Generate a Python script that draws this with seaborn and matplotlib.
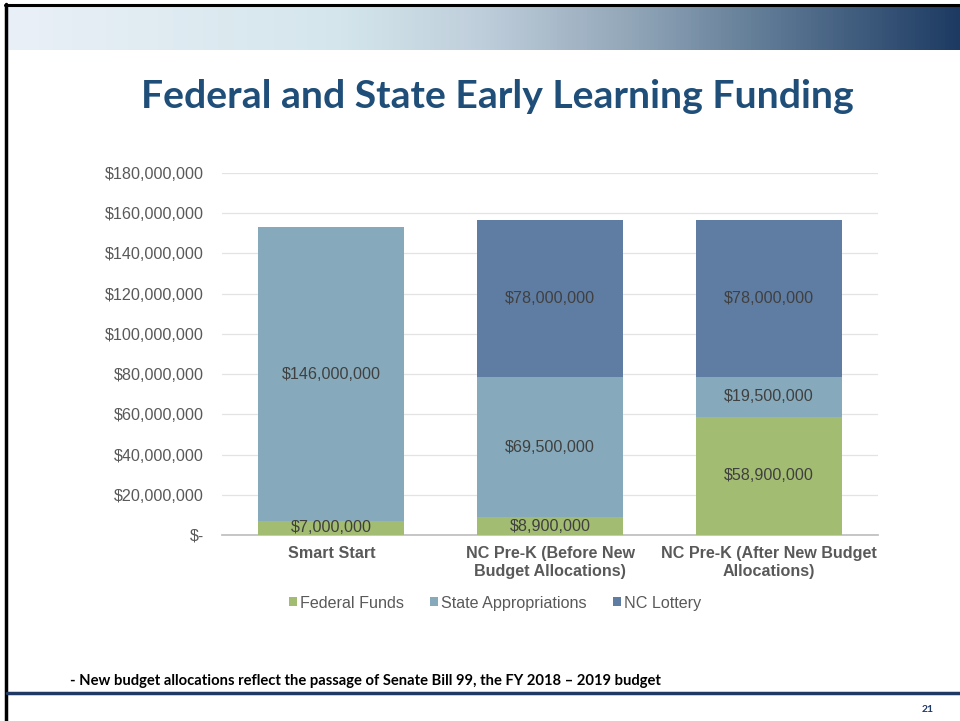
import numpy as np
import pandas as pd
import matplotlib
matplotlib.use("Agg")
import matplotlib.pyplot as plt
import seaborn as sns
from matplotlib.colors import LinearSegmentedColormap
from matplotlib.ticker import FuncFormatter

# --- dados ---
categories = ["Smart Start",
              "NC Pre-K (Before New\nBudget Allocations)",
              "NC Pre-K (After New Budget\nAllocations)"]
series = ["Federal Funds", "State Appropriations", "NC Lottery"]
federal = [7_000_000, 8_900_000, 58_900_000]
state = [146_000_000, 69_500_000, 19_500_000]
lottery = [0, 78_000_000, 78_000_000]
colors = ["#A2BC72", "#86AABB", "#5F7DA2"]

W, H = 960, 721
sns.set_theme(style="white")
plt.rcParams["font.family"] = ["Liberation Sans", "DejaVu Sans"]

fig = plt.figure(figsize=(W / 100, H / 100), dpi=100)

def px_axes(x0, y0, x1, y1):
    # caixa em pixels (origem no canto superior esquerdo)
    return fig.add_axes([x0 / W, 1 - y1 / H, (x1 - x0) / W, (y1 - y0) / H])

# --- faixa em degradê no topo ---
gax = px_axes(5, 5, W, 50)
cmap = LinearSegmentedColormap.from_list("band", [
    (0.0, "#EAF0F7"), (0.35, "#D4E6EC"), (0.5, "#BFCEDB"),
    (0.65, "#94A8BA"), (0.8, "#5F7A95"), (1.0, "#1D3A62")])
gax.imshow(np.linspace(0, 1, 256)[None, :], aspect="auto", cmap=cmap)
gax.set_axis_off()

# bordas
fig.add_artist(plt.Line2D([5 / W, 1], [1 - 5 / H] * 2, color="black", lw=2.2))
fig.add_artist(plt.Line2D([6 / W] * 2, [0, 1 - 4 / H], color="black", lw=2.5))
fig.add_artist(plt.Line2D([7 / W, 1], [1 - 693 / H] * 2, color="#1F3864", lw=2.5))

# --- títulos e notas ---
fig.text(497 / W, 1 - 97 / H, "Federal and State Early Learning Funding",
         ha="center", va="center", fontsize=28.2, fontweight="bold",
         color="#1F4E79", family=["Lato", "DejaVu Sans"])
fig.text(70 / W, 1 - 681 / H,
         "- New budget allocations reflect the passage of Senate Bill 99, the FY 2018 \u2013 2019 budget",
         ha="left", va="center", fontsize=10.6, fontweight="bold", color="black",
         family=["Lato", "DejaVu Sans"])
fig.text(928 / W, 1 - 709 / H, "21", ha="center", va="center", fontsize=7.5,
         fontweight="bold", color="#1F3864", family=["Lato", "DejaVu Sans"])

# --- gráfico de barras empilhadas ---
ax = px_axes(222, 173, 878, 535)
df = pd.DataFrame({"category": categories, "Federal Funds": federal,
                   "State Appropriations": state, "NC Lottery": lottery})
bottom = np.zeros(len(categories))
for name, col in zip(series, colors):
    vals = df[name].to_numpy(dtype=float)
    sns.barplot(x=df["category"], y=vals, bottom=bottom, color=col, width=0.667,
                ax=ax, label=name, saturation=1, linewidth=0, zorder=3)
    for i, v in enumerate(vals):
        if v > 0:
            ax.text(i, bottom[i] + v / 2, f"${v:,.0f}", ha="center", va="center",
                    fontsize=11.6, color="#404040", zorder=4)
    bottom += vals

ax.set_ylim(0, 180_000_000)
ax.set_yticks(np.arange(0, 180_000_001, 20_000_000))
ax.yaxis.set_major_formatter(FuncFormatter(lambda v, p: "$-" if v == 0 else f"${v:,.0f}"))
ax.grid(axis="y", color="#E3E3E3", lw=0.9, zorder=0)
for s in ["top", "right", "left"]:
    ax.spines[s].set_visible(False)
ax.spines["bottom"].set_color("#BFBFBF")
ax.tick_params(axis="y", labelsize=11.6, labelcolor="#595959", length=0, pad=13)
ax.tick_params(axis="x", labelsize=11.6, labelcolor="#595959", length=0, pad=8)
for lbl in ax.get_xticklabels():
    lbl.set_fontweight("bold")
ax.set_xlabel("")
ax.set_ylabel("")
ax.set_xlim(-0.5, 2.5)

ax.legend(loc="center", bbox_to_anchor=(0.416, -0.188), ncol=3, frameon=False,
          fontsize=11.6, labelcolor="#595959", handlelength=0.5, handleheight=0.5,
          handletextpad=0.2, columnspacing=1.6)

fig.savefig("out.png", dpi=100)
